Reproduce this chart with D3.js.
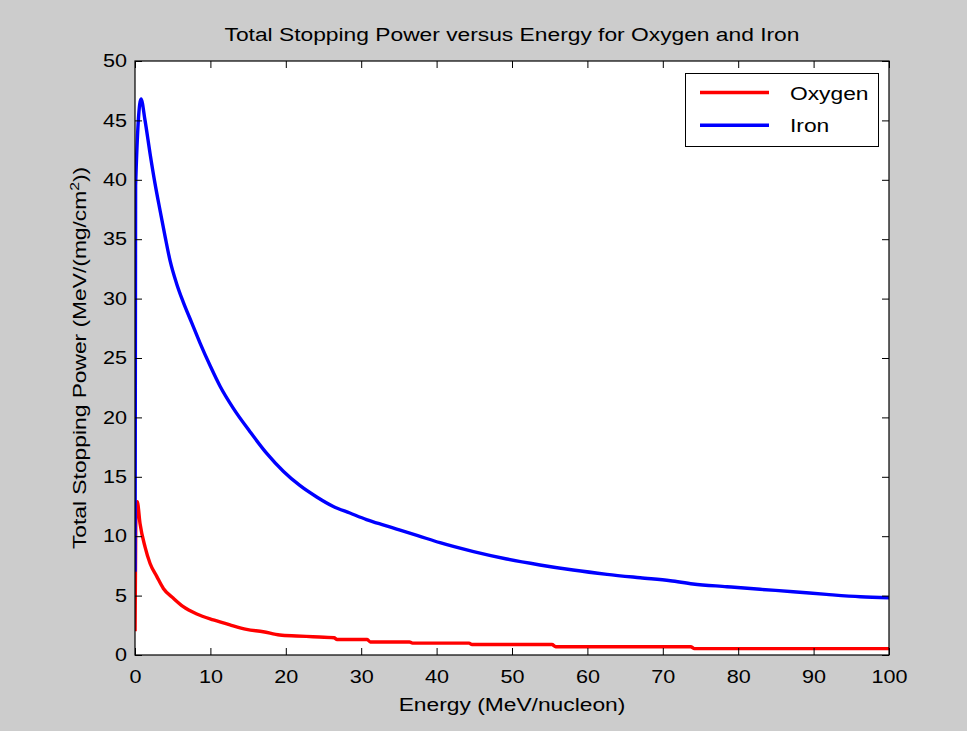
<!DOCTYPE html>
<html>
<head>
<meta charset="utf-8">
<script src="https://cdn.jsdelivr.net/npm/d3@7"></script>
<style>
  html, body { margin: 0; padding: 0; background: #cccccc; }
  svg { display: block; }
  text { font-family: "Liberation Sans", Arial, sans-serif; fill: #000; }
</style>
</head>
<body>
<svg id="chart" width="967" height="731"></svg>
<script>
// Stopping power tables (MeV/(mg/cm^2)) versus energy (MeV/nucleon)
const ironEnergy = [0.01, 0.08, 0.8, 1.33, 2.0, 2.65, 3.3, 4.0, 4.65, 5.5, 6.4, 7.5, 8.6,
  10, 11.3, 13, 15.25, 17.5, 19.7, 21.9, 24.1, 26.3, 28.5,
  30.7, 32.9, 34.7, 37.5, 40.45, 44.9, 49.3, 53.7, 58.1, 62.6,
  67, 71, 74, 78.5, 82.9, 87.3, 91.7, 96.2, 100];
const ironPower = [7.0, 39.5, 46.8, 45.0, 42.2, 39.7, 37.5, 35.2, 33.2, 31.3, 29.7, 28.0, 26.3,
  24.3, 22.6, 20.8, 18.8, 16.95, 15.45, 14.25, 13.3, 12.5, 11.95,
  11.4, 10.95, 10.6, 10.05, 9.45, 8.7, 8.08, 7.58, 7.15, 6.79,
  6.5, 6.25, 5.98, 5.75, 5.53, 5.33, 5.1, 4.9, 4.82];

const oxygenEnergy = [0.01, 0.1, 0.3, 0.66, 1.33, 2.0, 2.9, 3.76, 5.1, 6.4, 8.2, 10.4, 12.6, 14.8,
  17, 19.2, 21.4, 23.6, 26.4, 26.8, 30.8, 31.2, 36.4, 36.8, 44.3, 44.7, 55.3, 55.8, 73.7, 74.2, 100];
const oxygenPower = [2.0, 11.0, 12.9, 11.1, 9.1, 7.7, 6.6, 5.6, 4.77, 4.07, 3.45, 2.95, 2.53, 2.16,
  1.96, 1.68, 1.6, 1.54, 1.45, 1.3, 1.3, 1.1, 1.1, 1.0, 1.0, 0.88, 0.88, 0.7, 0.7, 0.54, 0.54];

const xTicks = [0, 10, 20, 30, 40, 50, 60, 70, 80, 90, 100];
const yTicks = [0, 5, 10, 15, 20, 25, 30, 35, 40, 45, 50];

const seriesNames = ["Oxygen", "Iron"];
const seriesColors = ["#ff0000", "#0000ff"];

const svg = d3.select("#chart");
const plotLeft = 135, plotRight = 889, plotTop = 61, plotBottom = 655;
const stretch = 1.2;   // wide lettering used throughout the figure

const x = d3.scaleLinear().domain([0, 100]).range([plotLeft, plotRight]);
const y = d3.scaleLinear().domain([0, 50]).range([plotBottom, plotTop]);

// axes background
svg.append("rect").attr("x", plotLeft).attr("y", plotTop)
  .attr("width", plotRight - plotLeft).attr("height", plotBottom - plotTop).attr("fill", "#fff");

svg.append("defs").append("clipPath").attr("id", "plotClip")
  .append("rect").attr("x", plotLeft).attr("y", plotTop)
  .attr("width", plotRight - plotLeft).attr("height", plotBottom - plotTop);

// data lines
const line = d3.line().x(d => x(d[0])).y(d => y(d[1])).curve(d3.curveMonotoneX);
const oxygen = oxygenEnergy.map((e, i) => [e, oxygenPower[i]]);
const iron = ironEnergy.map((e, i) => [e, ironPower[i]]);

const plot = svg.append("g").attr("clip-path", "url(#plotClip)");
plot.append("path").datum(oxygen).attr("d", line)
  .attr("fill", "none").attr("stroke", seriesColors[0]).attr("stroke-width", 3.4)
  .attr("stroke-linejoin", "round");
plot.append("path").datum(iron).attr("d", line)
  .attr("fill", "none").attr("stroke", seriesColors[1]).attr("stroke-width", 3.4)
  .attr("stroke-linejoin", "round");

// axes with inward ticks on all four sides
const tickLen = 7;
const fs = 18;
const axB = svg.append("g").attr("transform", `translate(0,${plotBottom})`)
  .call(d3.axisBottom(x).tickValues(xTicks).tickSize(-tickLen).tickPadding(15).tickSizeOuter(0));
const axT = svg.append("g").attr("transform", `translate(0,${plotTop})`)
  .call(d3.axisTop(x).tickValues(xTicks).tickSize(-tickLen).tickFormat("").tickSizeOuter(0));
const axL = svg.append("g").attr("transform", `translate(${plotLeft},0)`)
  .call(d3.axisLeft(y).tickValues(yTicks).tickSize(-tickLen).tickPadding(8 / stretch).tickSizeOuter(0));
const axR = svg.append("g").attr("transform", `translate(${plotRight},0)`)
  .call(d3.axisRight(y).tickValues(yTicks).tickSize(-tickLen).tickFormat("").tickSizeOuter(0));

[axB, axT, axL, axR].forEach(g => {
  g.select(".domain").remove();
  g.selectAll(".tick line").attr("stroke", "#000").attr("stroke-width", 1);
  g.selectAll("text").attr("font-size", fs).attr("font-family", "Liberation Sans, Arial, sans-serif")
    .attr("fill", "#000").attr("transform", `scale(${stretch},1)`);
});

svg.append("rect").attr("x", plotLeft).attr("y", plotTop)
  .attr("width", plotRight - plotLeft).attr("height", plotBottom - plotTop)
  .attr("fill", "none").attr("stroke", "#000").attr("stroke-width", 1.2);

// titles
svg.append("text").attr("transform", `translate(${(plotLeft + plotRight) / 2},41) scale(${stretch},1)`)
  .attr("text-anchor", "middle").attr("font-size", 19)
  .text("Total Stopping Power versus Energy for Oxygen and Iron");

svg.append("text").attr("transform", `translate(${(plotLeft + plotRight) / 2},711) scale(${stretch},1)`)
  .attr("text-anchor", "middle").attr("font-size", 19)
  .text("Energy (MeV/nucleon)");

const yl = svg.append("text")
  .attr("transform", `translate(86,${(plotTop + plotBottom) / 2}) rotate(-90) scale(${stretch},1)`)
  .attr("text-anchor", "middle").attr("font-size", 19);
yl.append("tspan").text("Total Stopping Power (MeV/(mg/cm");
yl.append("tspan").attr("font-size", 13).attr("dy", -7).text("2");
yl.append("tspan").attr("dy", 7).text("))");

// legend
const lg = svg.append("g");
lg.append("rect").attr("x", 685.5).attr("y", 73.5).attr("width", 193).attr("height", 73)
  .attr("fill", "#fff").attr("stroke", "#000").attr("stroke-width", 1);
seriesNames.forEach((name, i) => {
  const cy = 92.5 + i * 32.7;
  lg.append("line").attr("x1", 700).attr("x2", 769).attr("y1", cy).attr("y2", cy)
    .attr("stroke", seriesColors[i]).attr("stroke-width", 3.4);
  lg.append("text").attr("transform", `translate(790,${cy + 7}) scale(${stretch},1)`)
    .attr("font-size", 19).text(name);
});
</script>
</body>
</html>
